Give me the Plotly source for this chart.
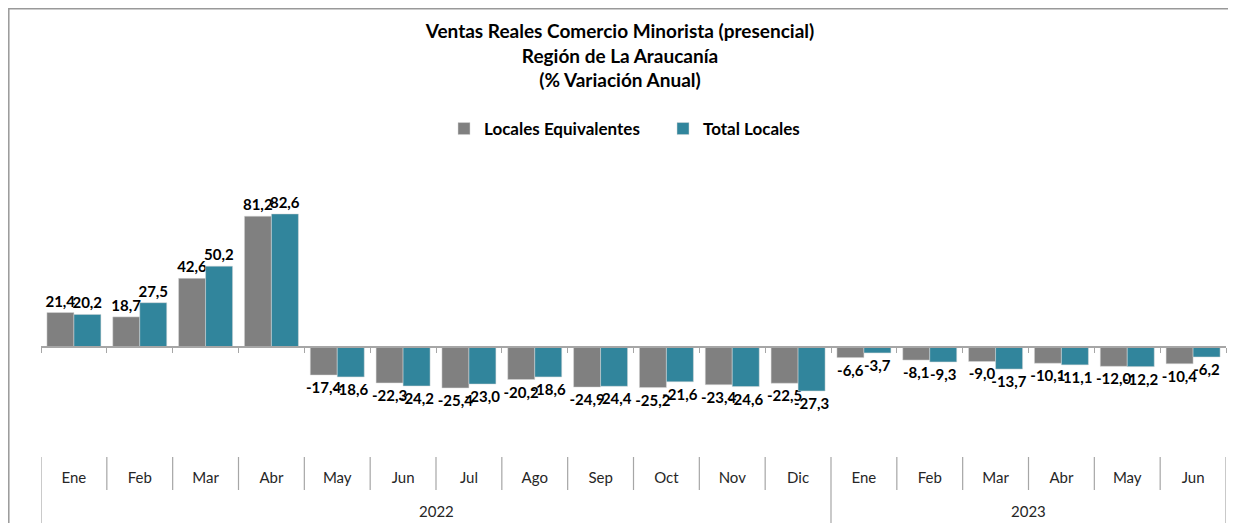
import plotly.graph_objects as go

years = ["2022"] * 12 + ["2023"] * 6
months = ["Ene", "Feb", "Mar", "Abr", "May", "Jun", "Jul", "Ago", "Sep", "Oct", "Nov", "Dic",
          "Ene", "Feb", "Mar", "Abr", "May", "Jun"]
locales_equiv = [21.4, 18.7, 42.6, 81.2, -17.4, -22.3, -25.4, -20.2, -24.9, -25.2, -23.4, -22.5,
                 -6.6, -8.1, -9.0, -10.1, -12.0, -10.4]
total_locales = [20.2, 27.5, 50.2, 82.6, -18.6, -24.2, -23.0, -18.6, -24.4, -21.6, -24.6, -27.3,
                 -3.7, -9.3, -13.7, -11.1, -12.2, -6.2]

FONT = "Lato, Carlito, Calibri, sans-serif"
GRAY = "#808080"
TEAL = "#31859C"
OFF = 8  # page body margin
W, H = 1236 - OFF, 523 - OFF
ML, MR = 41 - OFF, 10
MT = 150 - OFF
MB = H - (457 - OFF)
PW = W - ML - MR
PH = H - MT - MB


def fmt(v):
    return f"{v:.1f}".replace(".", ",")


def px_y(y_screen):
    """screen pixel y -> paper y"""
    return (H - MB - (y_screen - OFF)) / PH


def px_x(x_screen):
    return (x_screen - OFF - ML) / PW


n = len(months)
xs = list(range(n))

fig = go.Figure()
for name, vals, col in [("Locales Equivalentes", locales_equiv, GRAY),
                        ("Total Locales", total_locales, TEAL)]:
    fig.add_trace(go.Bar(x=xs, y=vals, name=name,
                         marker=dict(color=col, line=dict(color="#d9d9d9", width=0.5)),
                         text=[fmt(v) for v in vals], textposition="outside",
                         textfont=dict(family=FONT, size=15, color="black", weight="bold"),
                         cliponaxis=False, constraintext="none"))

ymin, ymax = -68.3, 122.3
zero_pos = (0 - ymin) / (ymax - ymin)

fig.add_trace(go.Scatter(x=[0, n - 1], y=[0, 0], xaxis="x2", mode="markers",
                         marker=dict(opacity=0), showlegend=False, hoverinfo="skip"))

shapes = []
year_bounds = [0] + [i for i in range(1, n) if years[i] != years[i - 1]] + [n]
for i in range(n + 1):
    long = i in year_bounds
    shapes.append(dict(type="line", xref="x", yref="paper", x0=i - 0.5, x1=i - 0.5,
                       y0=0, y1=-(MB + 5) / PH if long else -33 / PH,
                       line=dict(color="#a6a6a6", width=1.2)))
# outer chart border (kept inside the figure canvas)
shapes.append(dict(type="rect", xref="paper", yref="paper",
                   x0=(0.8 - ML) / PW, x1=(1225 - ML) / PW,
                   y0=-0.5, y1=(H - MB - 0.8) / PH,
                   line=dict(color="#999999", width=1.5), layer="below"))

annotations = []
for k in range(len(year_bounds) - 1):
    a, b = year_bounds[k], year_bounds[k + 1]
    annotations.append(dict(text=years[a], x=(a + b - 1) / 2, xref="x",
                            y=px_y(511), yref="paper", yanchor="middle",
                            showarrow=False,
                            font=dict(family=FONT, size=15, color="#262626")))

fig.update_layout(
    width=W, height=H,
    paper_bgcolor="white", plot_bgcolor="white",
    font=dict(family=FONT, size=15, color="#262626"),
    title=dict(text="<b>Ventas Reales Comercio Minorista (presencial)<br>Región de La Araucanía<br>(% Variación Anual)</b>",
               x=(620 - OFF) / W, xanchor="center",
               y=1 - 30 / H, yanchor="top",
               font=dict(family=FONT, size=19, color="black")),
    barmode="group", bargap=0.18, bargroupgap=0,
    margin=dict(l=ML, r=MR, t=MT, b=MB, autoexpand=False),
    legend=dict(orientation="h", x=px_x(444), xanchor="left",
                y=px_y(129), yanchor="middle",
                font=dict(family=FONT, size=17, color="black", weight="bold"),
                itemwidth=30, traceorder="normal", entrywidthmode="pixels", entrywidth=174),
    showlegend=True,
    xaxis=dict(range=[-0.5, n - 0.5], tickvals=xs, ticktext=months, showline=False,
               ticks="", showgrid=False, zeroline=False, ticklabelstandoff=10,
               tickfont=dict(family=FONT, size=15, color="#262626")),
    xaxis2=dict(overlaying="x", anchor="free", position=zero_pos, range=[-0.5, n - 0.5],
                showline=True, linecolor="#a6a6a6", linewidth=1.5,
                tickvals=[i - 0.5 for i in range(n + 1)], ticks="outside", ticklen=5,
                tickcolor="#a6a6a6", showticklabels=False, showgrid=False, zeroline=False),
    yaxis=dict(range=[ymin, ymax], visible=False, zeroline=False, showgrid=False),
    shapes=shapes,
    annotations=annotations,
)

fig.write_html("out.html")
